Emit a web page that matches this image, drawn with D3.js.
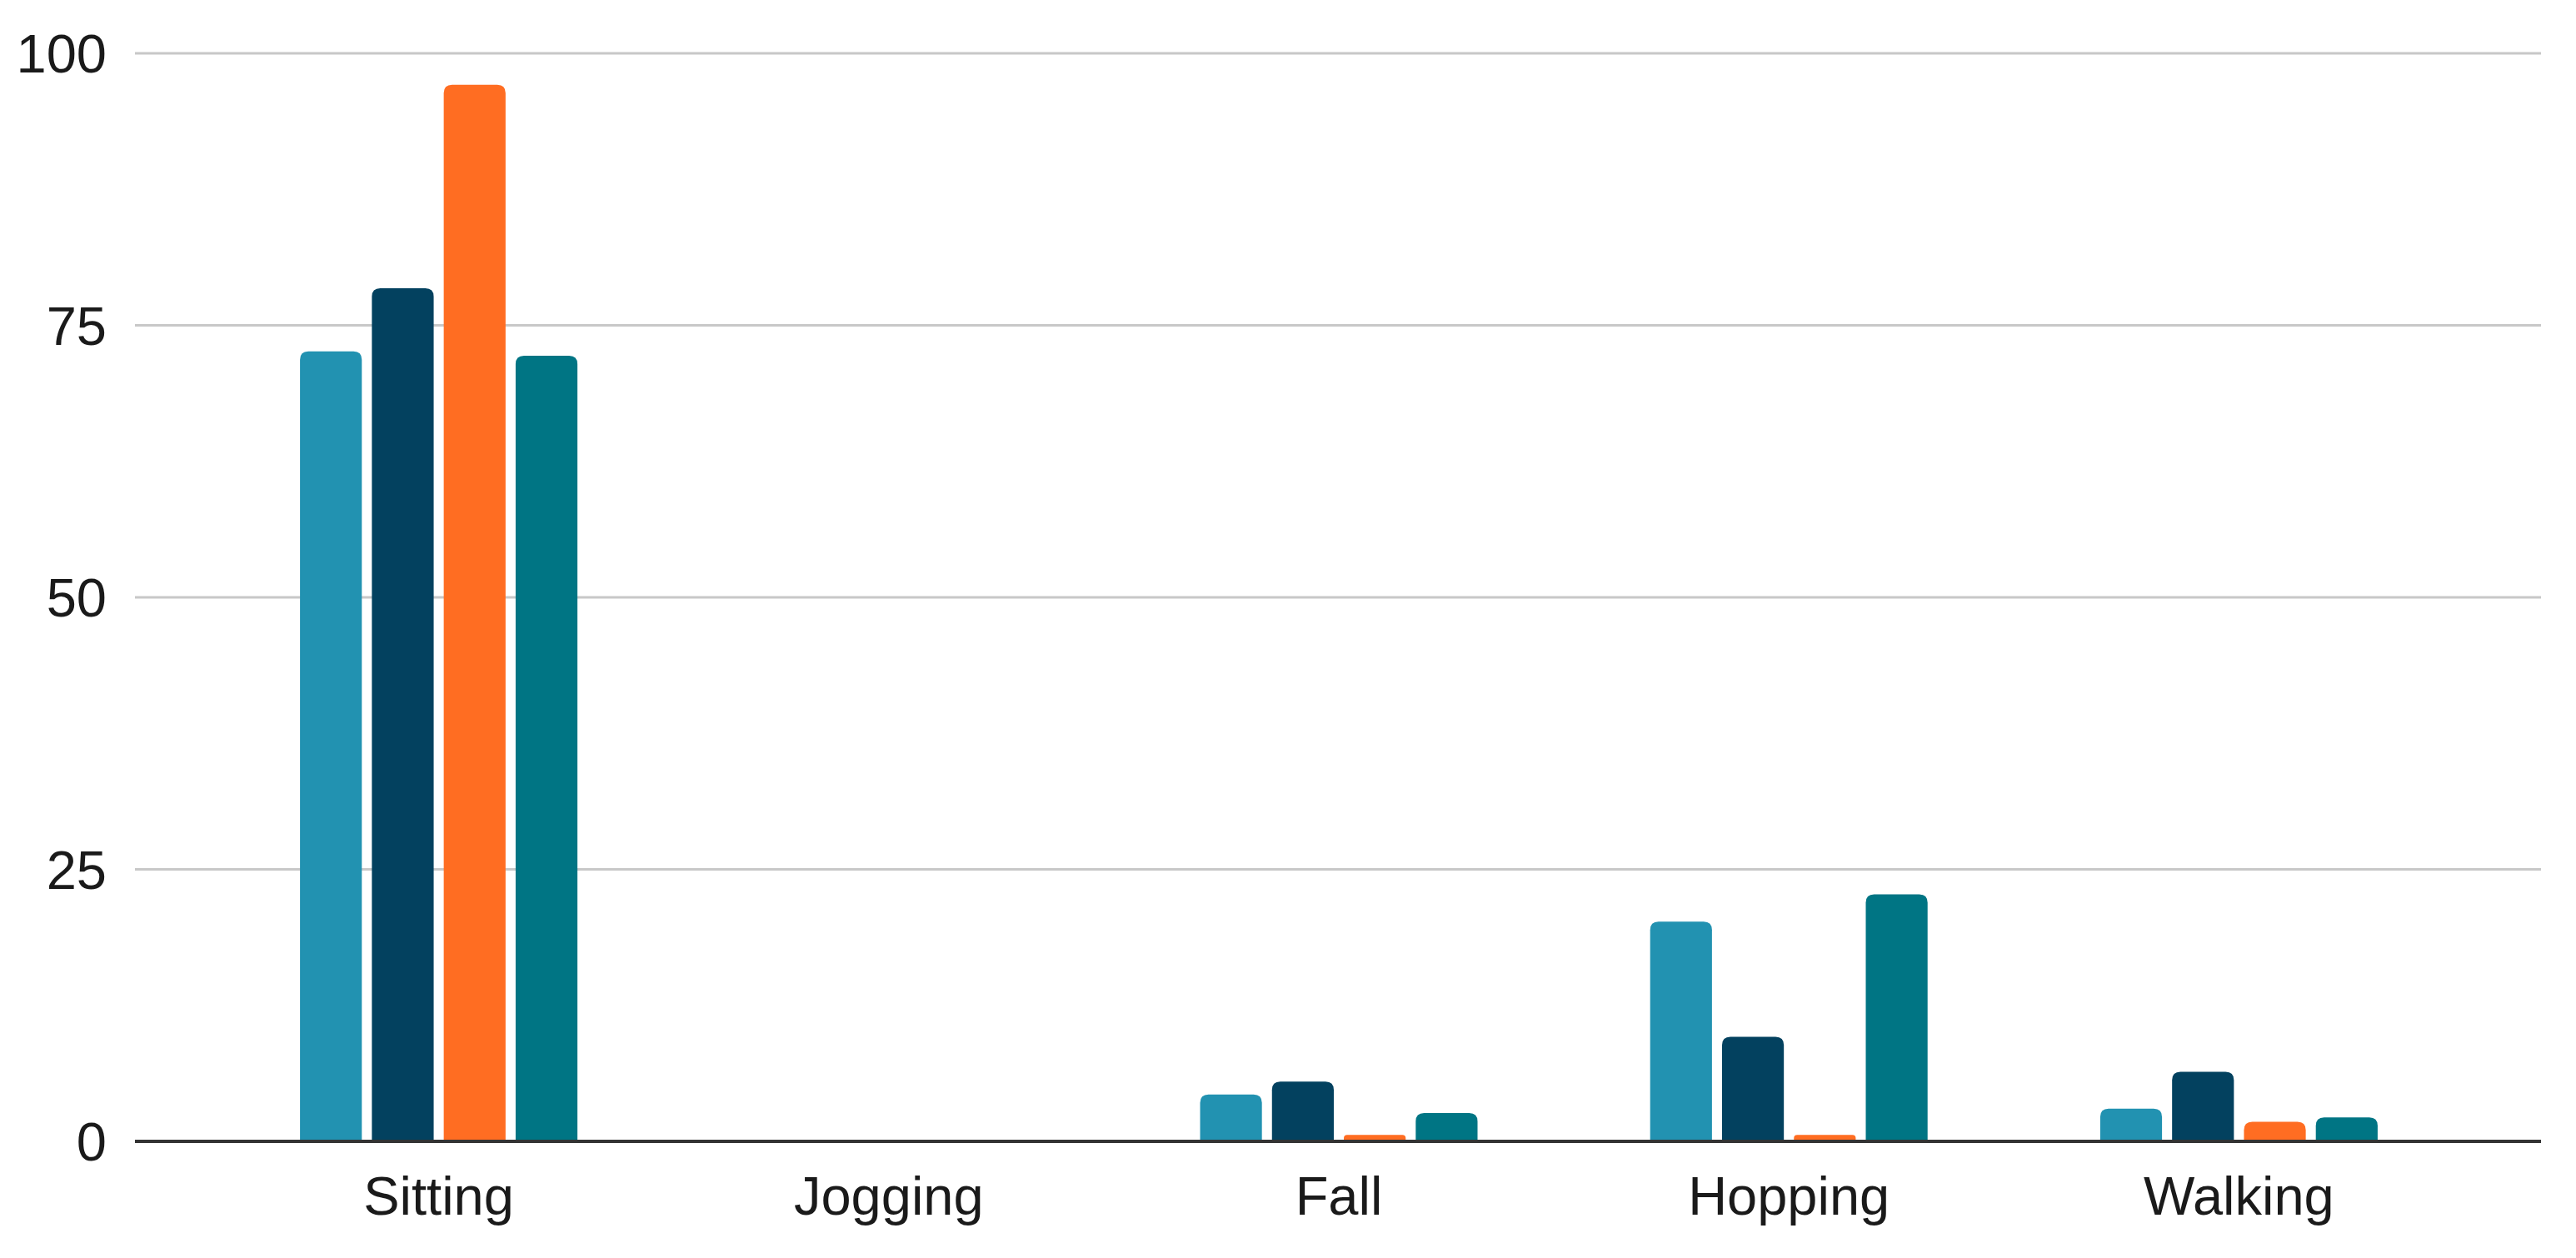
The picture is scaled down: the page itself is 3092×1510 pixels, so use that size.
<!DOCTYPE html>
<html>
<head>
<meta charset="utf-8">
<script src="https://cdn.jsdelivr.net/npm/d3@7"></script>
<style>
  html, body { margin: 0; padding: 0; background: #fff; }
  svg { display: block; }
</style>
</head>
<body>
<div id="chart"></div>
<script>
// data
var categories = ["Sitting", "Jogging", "Fall", "Hopping", "Walking"];
var seriesNames = ["s1", "s2", "s3", "s4"];
var series1 = [72.6, 0, 4.3, 20.2, 3.0];
var series2 = [78.4, 0, 5.5, 9.6, 6.4];
var series3 = [97.1, 0, 0.6, 0.6, 1.8];
var series4 = [72.2, 0, 2.6, 22.7, 2.2];
var yTicks = [0, 25, 50, 75, 100];
var colors = ["#2292b1", "#03415f", "#ff6d22", "#007584"];

var allSeries = [series1, series2, series3, series4];

var width = 3092, height = 1510;
var plotLeft = 162, plotRight = 3050;

var svg = d3.select("#chart").append("svg")
    .attr("width", width)
    .attr("height", height);

// scales
var x = d3.scaleBand().domain(categories).range([256.5, 2957.5]).paddingInner(0).paddingOuter(0);
var xInner = d3.scaleBand().domain(seriesNames).range([x.bandwidth() / 2 - 166.5, x.bandwidth() / 2 + 166.5]).paddingInner(0.14);
var y = d3.scaleLinear().domain([0, 100]).range([1370, 64]);

// gridlines
svg.append("g")
    .selectAll("line")
    .data(yTicks.filter(function(d) { return d > 0; }))
    .join("line")
    .attr("x1", plotLeft).attr("x2", plotRight)
    .attr("y1", function(d) { return y(d); })
    .attr("y2", function(d) { return y(d); })
    .attr("stroke", "#c8c8c8")
    .attr("stroke-width", 3);

// y labels
svg.append("g")
    .selectAll("text")
    .data(yTicks)
    .join("text")
    .attr("x", 128)
    .attr("y", function(d) { return y(d); })
    .attr("dy", "0.36em")
    .attr("text-anchor", "end")
    .attr("font-family", "Liberation Sans, Arial, sans-serif")
    .attr("font-size", 65)
    .attr("fill", "#1a1a1a")
    .text(function(d) { return d; });

// bar with rounded top corners
function barPath(x0, w, yTop, yBase, r) {
  var h = yBase - yTop;
  r = Math.min(r, h / 2, w / 2);
  if (h <= 0) return "";
  return "M" + x0 + "," + yBase +
    "V" + (yTop + r) +
    "Q" + x0 + "," + yTop + " " + (x0 + r) + "," + yTop +
    "H" + (x0 + w - r) +
    "Q" + (x0 + w) + "," + yTop + " " + (x0 + w) + "," + (yTop + r) +
    "V" + yBase + "Z";
}

var groups = svg.append("g")
    .selectAll("g")
    .data(categories)
    .join("g")
    .attr("transform", function(d) { return "translate(" + x(d) + ",0)"; });

groups.selectAll("path")
    .data(function(cat, i) {
      return seriesNames.map(function(s, j) { return { s: s, v: allSeries[j][i], c: colors[j] }; });
    })
    .join("path")
    .attr("d", function(d) { return barPath(xInner(d.s), xInner.bandwidth(), y(d.v), y(0), 10); })
    .attr("fill", function(d) { return d.c; });

// baseline
svg.append("line")
    .attr("x1", plotLeft).attr("x2", plotRight)
    .attr("y1", y(0)).attr("y2", y(0))
    .attr("stroke", "#333")
    .attr("stroke-width", 4);

// x labels
svg.append("g")
    .selectAll("text")
    .data(categories)
    .join("text")
    .attr("x", function(d) { return x(d) + x.bandwidth() / 2; })
    .attr("y", 1458)
    .attr("text-anchor", "middle")
    .attr("font-family", "Liberation Sans, Arial, sans-serif")
    .attr("font-size", 65)
    .attr("fill", "#1a1a1a")
    .text(function(d) { return d; });
</script>
</body>
</html>
